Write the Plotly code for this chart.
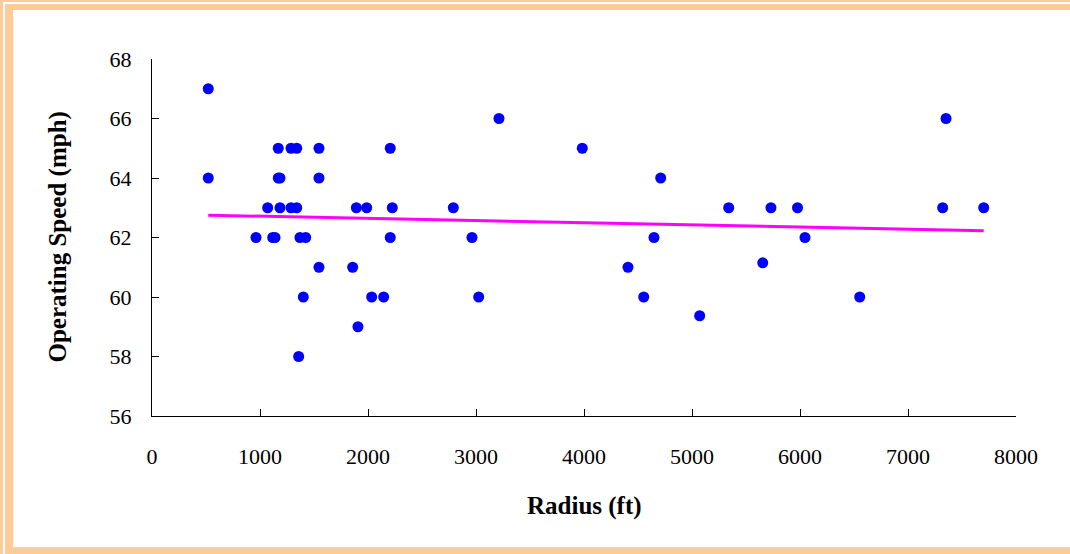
import plotly.graph_objects as go

# ---- data ----
radius_ft = [521, 521, 963, 1071, 1118, 1139, 1169, 1169, 1185, 1185,
             1287, 1340, 1287, 1340, 1370, 1423, 1358, 1401, 1546, 1546,
             1546, 1858, 1892, 1907, 1988, 2034, 2145, 2206, 2206, 2225,
             2790, 2963, 3025, 3213, 3984, 4407, 4553, 4648, 4710, 5071,
             5340, 5655, 5731, 5977, 6046, 6553, 7321, 7352, 7701]
speed_mph = [67, 64, 62, 63, 62, 62, 65, 64, 64, 63,
             65, 65, 63, 63, 62, 62, 58, 60, 65, 64,
             61, 61, 63, 59, 63, 60, 60, 65, 62, 63,
             63, 62, 60, 66, 65, 61, 60, 62, 64, 59.37,
             63, 61.15, 63, 63, 62, 60, 63, 66, 63]
trend_x = [521, 7701]
trend_y = [62.75, 62.23]

x_ticks = [0, 1000, 2000, 3000, 4000, 5000, 6000, 7000, 8000]
y_ticks = [56, 58, 60, 62, 64, 66, 68]

W, H = 1070, 554
L, R, T, B = 152, 54, 59, 138
PW, PH = W - L - R, H - T - B

def px_rect(x0, y0, x1, y1):
    # convert pixel rectangle to paper coordinates
    return dict(x0=(x0 - L) / PW, x1=(x1 - L) / PW,
                y0=(H - B - y0) / PH, y1=(H - B - y1) / PH)

peach = "#FFCC99"
shapes = []
for rect in [(0, 0, W, 2), (0, 0, 3, H), (5, 4, W, 10), (5, 4, 13, H), (5, 547, W, H)]:
    s = dict(type="rect", xref="paper", yref="paper", fillcolor=peach,
             line=dict(width=0), layer="below")
    s.update(px_rect(*rect))
    shapes.append(s)

font_serif = "Liberation Serif, Times New Roman, serif"

fig = go.Figure()
fig.add_trace(go.Scatter(x=radius_ft, y=speed_mph, mode="markers",
                         marker=dict(color="#0000FF", size=11, line=dict(width=0)),
                         showlegend=False, cliponaxis=False))
fig.add_trace(go.Scatter(x=trend_x, y=trend_y, mode="lines",
                         line=dict(color="#FF00FF", width=3),
                         showlegend=False))

fig.update_layout(
    width=W, height=H,
    margin=dict(l=L, r=R, t=T, b=B),
    paper_bgcolor="white", plot_bgcolor="white",
    font=dict(family=font_serif, color="black", size=22),
    shapes=shapes,
    xaxis=dict(range=[0, 8000], tickvals=x_ticks, ticks="inside", ticklen=7,
               tickcolor="black", showline=True, linecolor="black", linewidth=1,
               showgrid=False, zeroline=False, ticklabelstandoff=21,
               tickfont=dict(size=22, family=font_serif)),
    yaxis=dict(range=[56, 68], tickvals=y_ticks, ticks="inside", ticklen=7,
               tickcolor="black", showline=True, linecolor="black", linewidth=1,
               showgrid=False, zeroline=False, ticklabelstandoff=15,
               tickfont=dict(size=22, family=font_serif)),
    annotations=[
        dict(text="<b>Radius (ft)</b>", xref="paper", yref="paper", x=0.5, y=0,
             yshift=-90, showarrow=False, xanchor="center", yanchor="middle",
             font=dict(size=25, family=font_serif)),
        dict(text="<b>Operating Speed (mph)</b>", xref="paper", yref="paper",
             x=0, y=0.5, xshift=-95, textangle=-90, showarrow=False,
             xanchor="center", yanchor="middle",
             font=dict(size=25, family=font_serif)),
    ],
)

fig.write_html("out.html",
               config={"displayModeBar": False},
               post_script="document.body.style.margin='0';document.body.style.overflow='hidden';")
